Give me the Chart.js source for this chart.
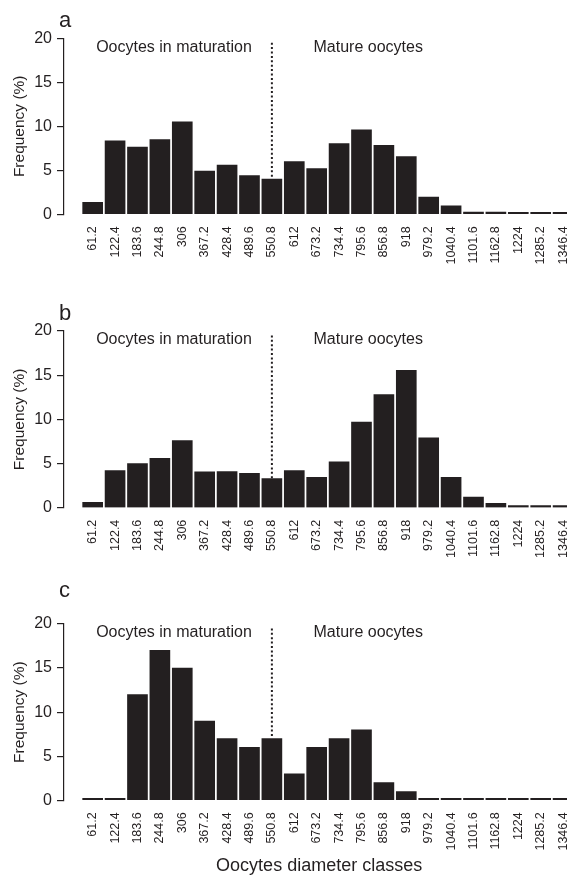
<!DOCTYPE html>
<html lang="en">
<head>
  <meta charset="UTF-8">
  <title>Oocytes diameter classes</title>
  <script src="https://cdn.jsdelivr.net/npm/chart.js@4.4.1/dist/chart.umd.min.js"></script>
  <style>
    body { margin: 0; background: #fff; overflow: hidden; }
    #wrap { position: relative; width: 567px; height: 875px; overflow: hidden; }
    #wrap canvas { position: absolute; left: 0; display: block; }
  </style>
</head>
<body>
  <div id="wrap">
    <canvas id="chartA" width="576" height="290" style="top:0"></canvas>
    <canvas id="chartB" width="576" height="290" style="top:290px"></canvas>
    <canvas id="chartC" width="576" height="295" style="top:580px"></canvas>
  </div>

  <script>
    // Diameter classes (x axis)
    const classes = ['61.2', '122.4', '183.6', '244.8', '306', '367.2', '428.4', '489.6', '550.8', '612',
      '673.2', '734.4', '795.6', '856.8', '918', '979.2', '1040.4', '1101.6', '1162.8', '1224', '1285.2', '1346.4'];

    // Frequency (%) per panel
    const freqA = [1.35, 8.35, 7.65, 8.5, 10.5, 4.9, 5.6, 4.4, 4.0, 6.0, 5.2, 8.05, 9.6, 7.85, 6.55, 1.95, 0.95, 0.25, 0.25, 0.08, 0.08, 0.08];
    const freqB = [0.6, 4.2, 5.0, 5.6, 7.6, 4.05, 4.1, 3.9, 3.3, 4.2, 3.45, 5.2, 9.7, 12.8, 15.55, 7.9, 3.45, 1.2, 0.5, 0.15, 0.08, 0.08];
    const freqC = [0, 0, 12, 17, 15, 9, 7, 6, 7, 3, 6, 7, 8, 2, 1, 0, 0, 0, 0, 0, 0, 0];

    const yTicks = [0, 5, 10, 15, 20];

    // dotted divider between the two groups sits on class 550.8
    const dividerClass = '550.8';
    const dividerTop = 19.5;

    const ink = '#231f20';
    const family = '"Liberation Sans", Arial, Helvetica, sans-serif';

    // letters and group captions
    const textPlugin = {
      id: 'panelText',
      afterDraw(chart, args, opts) {
        const { ctx } = chart;
        const x = chart.scales.x, y = chart.scales.y;
        ctx.save();
        ctx.fillStyle = ink;
        ctx.font = '16px ' + family;
        ctx.textAlign = 'center';
        ctx.textBaseline = 'middle';
        ctx.fillText('Oocytes in maturation', x.getPixelForValue(3.63), y.getPixelForValue(19));
        ctx.fillText('Mature oocytes', x.getPixelForValue(12.3), y.getPixelForValue(19));
        ctx.font = '22px ' + family;
        ctx.textAlign = 'left';
        ctx.textBaseline = 'alphabetic';
        ctx.fillText(opts.letter, 59, opts.letterY);
        ctx.restore();
      }
    };

    function makePanel(id, letter, values, box) {
      const d = classes.indexOf(dividerClass);
      return new Chart(document.getElementById(id), {
        type: 'bar',
        data: {
          datasets: [
            {
              type: 'line',
              data: [{ x: d, y: dividerTop }, { x: d, y: values[d] }],
              borderColor: ink,
              borderWidth: 2,
              borderDash: [2, 2.4],
              pointRadius: 0
            },
            {
              data: values.map((v, i) => ({ x: i, y: v })),
              backgroundColor: ink,
              borderWidth: 0,
              barThickness: 20,
              minBarLength: 2
            }
          ]
        },
        options: {
          responsive: false,
          animation: false,
          events: [],
          layout: { padding: { top: box.top, left: 0, right: 1.7, bottom: 0 } },
          plugins: {
            legend: { display: false },
            tooltip: { enabled: false },
            panelText: { letter: letter, letterY: box.letterY }
          },
          scales: {
            x: {
              type: 'linear',
              offset: false,
              min: -1.28,
              max: 21.5,
              afterBuildTicks: s => { s.ticks = classes.map((c, i) => ({ value: i })); },
              afterFit: s => { s.height = box.H - box.top - box.plotH; s.paddingLeft = 0; s.paddingRight = 0; },
              border: { display: false },
              grid: { display: false, drawTicks: false },
              ticks: {
                autoSkip: false,
                minRotation: 90,
                maxRotation: 90,
                padding: 12,
                color: ink,
                font: { size: 12.5, family: family },
                callback: v => classes[v] ?? ''
              },
              title: {
                display: !!box.xTitle,
                text: 'Oocytes diameter classes',
                color: ink,
                font: { size: 18, family: family, lineHeight: 1 },
                padding: { top: 0, bottom: 0 }
              }
            },
            y: {
              min: 0,
              max: 20,
              afterBuildTicks: s => { s.ticks = yTicks.map(v => ({ value: v })); },
              afterFit: s => { s.width = 64; s.paddingTop = 0; s.paddingBottom = 0; },
              border: { display: true, color: ink, width: 1.2 },
              grid: { drawOnChartArea: false, drawTicks: true, tickLength: 7, color: ink, lineWidth: 1.2 },
              ticks: { color: ink, font: { size: 16, family: family }, padding: 5 },
              title: {
                display: true,
                text: 'Frequency (%)',
                color: ink,
                font: { size: 15.5, family: family, lineHeight: 1 },
                padding: { top: 12, bottom: 0 }
              }
            }
          }
        },
        plugins: [textPlugin]
      });
    }

    makePanel('chartA', 'a', freqA, { H: 290, top: 38.3, plotH: 176, letterY: 27 });
    makePanel('chartB', 'b', freqB, { H: 290, top: 41, plotH: 176.7, letterY: 30 });
    makePanel('chartC', 'c', freqC, { H: 295, top: 44, plotH: 176.3, letterY: 17, xTitle: true });
  </script>
</body>
</html>
